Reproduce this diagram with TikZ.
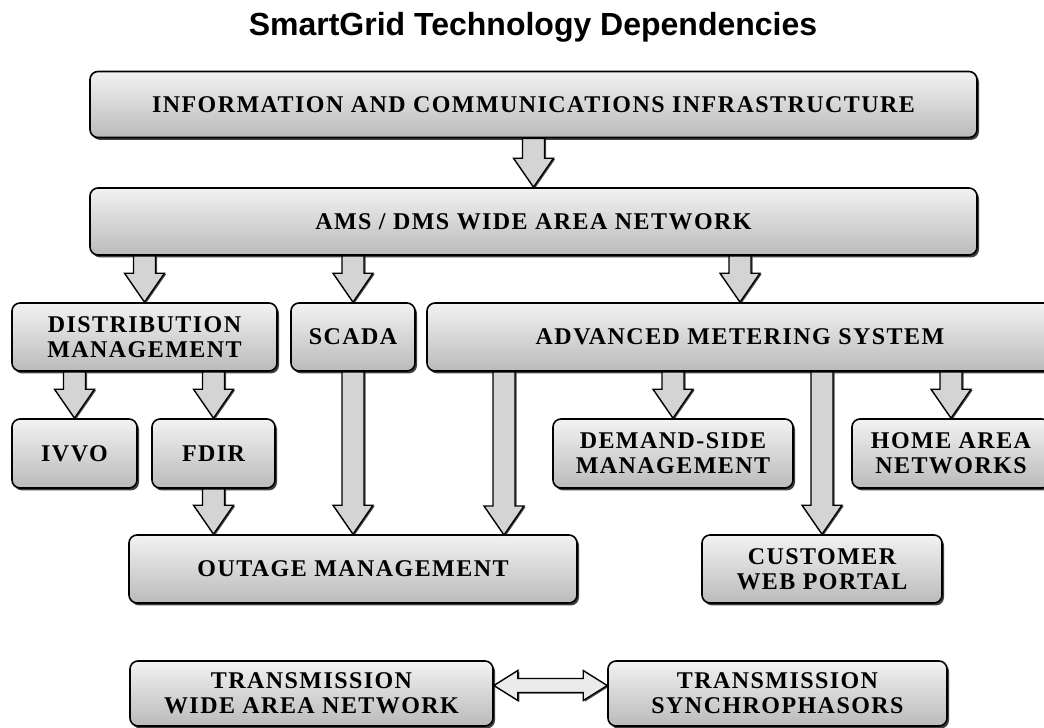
\documentclass[tikz,border=0pt]{standalone}
\usepackage{fontspec}
\setmainfont{Liberation Serif}
\newfontfamily\blockfont[LetterSpace=6]{Liberation Serif}
\newfontfamily\headfont{Liberation Sans}
\usetikzlibrary{calc,shadows}

\begin{document}
\begin{tikzpicture}[x=0.5pt,y=-0.5pt]
    \tikzstyle{block}=[
        draw = black,
        line width = 0.8pt,
        rounded corners = 4pt,
        top color = black!5,
        bottom color = black!27,
        drop shadow = {shadow xshift=1pt, shadow yshift=-1.2pt, opacity=0.75, fill=black},
        align = center,
        inner sep = 0pt,
        font = \blockfont\bfseries\fontsize{12}{12.5}\selectfont
    ]
    \tikzstyle{downarrow}=[
        draw = black,
        line width = 0.7pt,
        fill = black!17,
        drop shadow = {shadow xshift=0.8pt, shadow yshift=-0.5pt, opacity=0.7, fill=black},
        to path = {let \p1 = (\tikztostart), \p2 = (\tikztotarget) in
            (\x1-5.5pt,\y1) -- (\x1-5.5pt,\y2+14.5pt) -- (\x1-10pt,\y2+14.5pt) -- (\x2,\y2)
            -- (\x1+10pt,\y2+14.5pt) -- (\x1+5.5pt,\y2+14.5pt) -- (\x1+5.5pt,\y1) -- cycle}
    ]
    \tikzstyle{twoway}=[
        draw = black,
        line width = 0.7pt,
        fill = black!8,
        drop shadow = {shadow xshift=0.8pt, shadow yshift=-0.6pt, opacity=0.7, fill=black},
        to path = {let \p1 = (\tikztostart), \p2 = (\tikztotarget) in
            (\x1,\y1) -- (\x1+12pt,\y1+7.5pt) -- (\x1+12pt,\y1+3.5pt) -- (\x2-12pt,\y1+3.5pt)
            -- (\x2-12pt,\y1+7.5pt) -- (\x2,\y1) -- (\x2-12pt,\y1-7.5pt) -- (\x2-12pt,\y1-3.5pt)
            -- (\x1+12pt,\y1-3.5pt) -- (\x1+12pt,\y1-7.5pt) -- cycle}
    ]

    \clip (0,0) rectangle (1044,728);

    \node[font=\headfont\bfseries\fontsize{16}{16}\selectfont, anchor=base] (title) at (533,35) {SmartGrid Technology Dependencies};

    % top layers
    \node[block, minimum width=443.5pt, minimum height=33pt]   (ici)   at (533.5,104.5) {INFORMATION AND COMMUNICATIONS INFRASTRUCTURE};
    \node[block, minimum width=443.5pt, minimum height=33.5pt] (wan)   at (533.5,221.5) {AMS / DMS WIDE AREA NETWORK};

    % distribution side
    \node[block, minimum width=132.5pt, minimum height=34pt]   (dm)    at (144.5,337)   {DISTRIBUTION\\MANAGEMENT};
    \node[block, minimum width=62pt,    minimum height=34pt]   (scada) at (353,337)     {SCADA};
    \node[block, minimum width=313pt,   minimum height=34pt]   (ams)   at (740,337)     {ADVANCED METERING SYSTEM};
    \node[block, minimum width=62.5pt,  minimum height=34.5pt] (ivvo)  at (74.5,453.5)  {IVVO};
    \node[block, minimum width=61.5pt,  minimum height=34.5pt] (fdir)  at (213.5,453.5) {FDIR};
    \node[block, minimum width=120pt,   minimum height=34.5pt] (dsm)   at (673,453.5)   {DEMAND-SIDE\\MANAGEMENT};
    \node[block, minimum width=99pt,    minimum height=34.5pt] (han)   at (951,453.5)   {HOME AREA\\NETWORKS};
    \node[block, minimum width=224pt,   minimum height=34pt]   (om)    at (353,569)     {OUTAGE MANAGEMENT};
    \node[block, minimum width=120pt,   minimum height=34pt]   (cwp)   at (822,569)     {CUSTOMER\\WEB PORTAL};

    % transmission
    \node[block, minimum width=181.5pt, minimum height=32.5pt] (twan)  at (311.5,693.5) {TRANSMISSION\\WIDE AREA NETWORK};
    \node[block, minimum width=169.5pt, minimum height=32.5pt] (ts)    at (777.5,693.5) {TRANSMISSION\\SYNCHROPHASORS};

    \coordinate (omtap) at (504,535);

    \draw[downarrow] (ici.south) to (wan.north);
    \draw[downarrow] (wan.south -| dm) to (dm.north);
    \draw[downarrow] (wan.south -| scada) to (scada.north);
    \draw[downarrow] (wan.south -| ams) to (ams.north);
    \draw[downarrow] (dm.south -| ivvo) to (ivvo.north);
    \draw[downarrow] (dm.south -| fdir) to (fdir.north);
    \draw[downarrow] (fdir.south) to (om.north -| fdir);
    \draw[downarrow] (scada.south) to (om.north);
    \draw[downarrow] (ams.south -| omtap) to (omtap);
    \draw[downarrow] (ams.south -| dsm) to (dsm.north);
    \draw[downarrow] (ams.south -| cwp) to (cwp.north);
    \draw[downarrow] (ams.south -| han) to (han.north);
    \draw[twoway] ([yshift=4pt]twan.east) to ([yshift=4pt]ts.west);

\end{tikzpicture}
\end{document}
